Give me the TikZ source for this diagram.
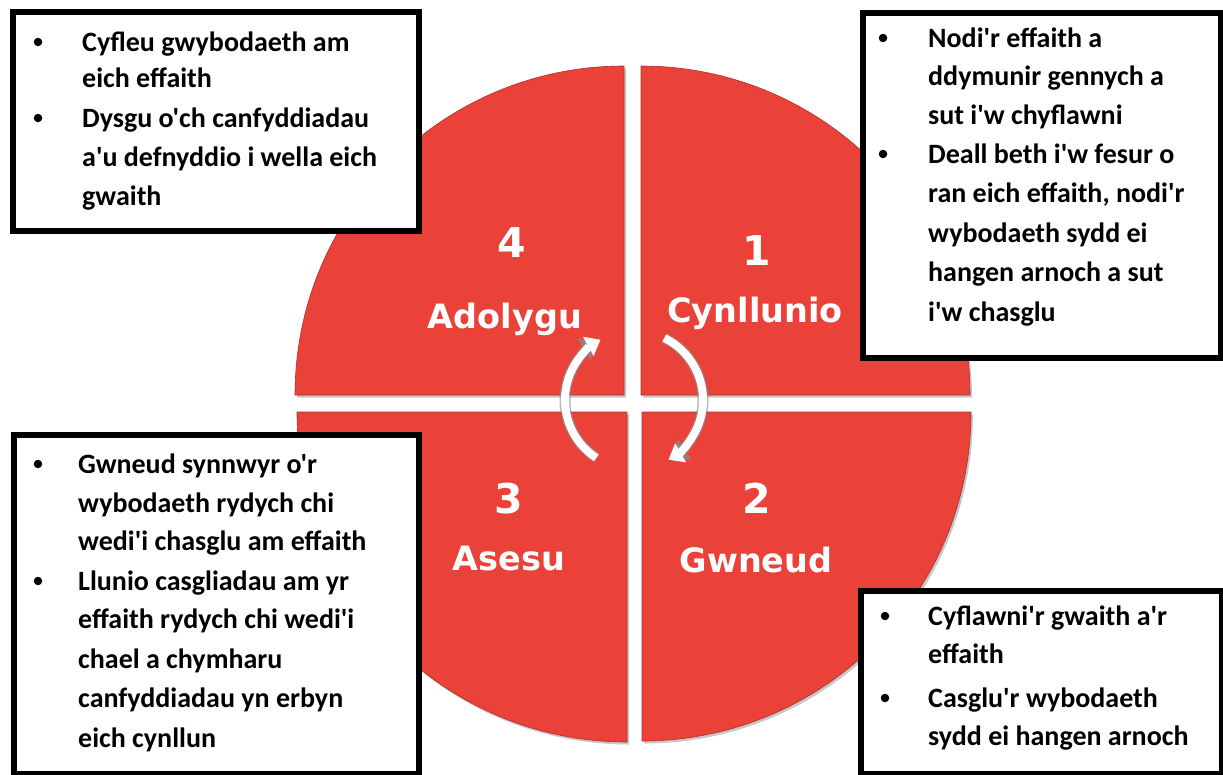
\documentclass[tikz,border=0pt]{standalone}
\usepackage{fontspec}
\newfontfamily\bodyfont{Carlito}
\newfontfamily\labfont{DejaVu Sans}
\usetikzlibrary{arrows.meta}
\definecolor{qred}{RGB}{234,65,57}
\definecolor{qedge}{RGB}{170,50,45}
\begin{document}
\begin{tikzpicture}[x=1pt,y=1pt,yscale=-1,
  quad/.style={fill=qred,draw=qedge,line width=0.6pt},
  qshadow/.style={fill=black,opacity=0.22},
  box/.style={draw=black,line width=5.5pt,fill=white,inner sep=0pt,anchor=north west},
  txt/.style={anchor=base west,inner sep=0pt,font=\bodyfont\bfseries\fontsize{28}{34}\selectfont},
  bul/.style={anchor=center,inner sep=0pt,fill=black,circle,minimum size=8.5pt},
  num/.style={anchor=base,inner sep=0pt,text=white,font=\labfont\bfseries\fontsize{41}{48}\selectfont},
  lab/.style={anchor=base,inner sep=0pt,text=white,font=\labfont\bfseries\fontsize{33.5}{40}\selectfont},
  arrshadow/.style={draw=black!45,opacity=0.6,line width=11pt,-{Triangle[length=17pt,width=25pt]}},
  arrmain/.style={draw=white,line width=8pt,-{Triangle[length=14pt,width=21pt]}}
]
\useasboundingbox[fill=white] (0,0) rectangle (1223,774);

% quadrant shadows
\begin{scope}[shift={(2,2.5)}]
\fill[qshadow] (624,395) -- (295,395) arc[start angle=180,end angle=270,radius=329] -- cycle;
\fill[qshadow] (641,395) -- (641,66) arc[start angle=270,end angle=360,radius=329] -- cycle;
\fill[qshadow] (642,412) -- (971,412) arc[start angle=0,end angle=90,radius=329] -- cycle;
\fill[qshadow] (627,412) -- (627,742) arc[start angle=90,end angle=180,radius=330] -- cycle;
\end{scope}
% quadrants
\draw[quad] (624,395) -- (295,395) arc[start angle=180,end angle=270,radius=329] -- cycle;
\draw[quad] (641,395) -- (641,66) arc[start angle=270,end angle=360,radius=329] -- cycle;
\draw[quad] (642,412) -- (971,412) arc[start angle=0,end angle=90,radius=329] -- cycle;
\draw[quad] (627,412) -- (627,742) arc[start angle=90,end angle=180,radius=330] -- cycle;

% curved arrows
\coordinate (ctr) at (634,400);
\draw[arrshadow,shift={(2,3)}] (ctr) ++(123:69) arc[start angle=123,end angle=239,radius=69];
\draw[arrmain] (ctr) ++(123:69) arc[start angle=123,end angle=241,radius=69];
\draw[arrshadow,shift={(2,3)}] (ctr) ++(-64:69) arc[start angle=-64,end angle=58,radius=69];
\draw[arrmain] (ctr) ++(-64:69) arc[start angle=-64,end angle=60,radius=69];

% quadrant labels
\node[num] (n4) at (512,257) {4};
\node[lab] (l4) at (505,328) {Adolygu};
\node[num] (n1) at (757,265) {1};
\node[lab] (l1) at (755,322) {Cynllunio};
\node[num] (n3) at (509,513) {3};
\node[lab] (l3) at (509,570) {Asesu};
\node[num] (n2) at (757,513) {2};
\node[lab] (l2) at (756,572) {Gwneud};

% boxes
\node[box,minimum width=406pt,minimum height=219pt] (tlbox) at (10,9) {};
\node[box,minimum width=358pt,minimum height=345pt] (trbox) at (860,10) {};
\node[box,minimum width=405pt,minimum height=339pt] (blbox) at (11,432) {};
\node[box,minimum width=361pt,minimum height=183pt] (brbox) at (858,588) {};

% top-left text
\node[bul] (tlb1) at (38,42) {};
\node[bul] (tlb2) at (38,118) {};
\foreach \y/\t [count=\i] in {51/Cyfleu gwybodaeth am, 87/eich effaith, 127/Dysgu o'ch canfyddiadau, 166/a'u defnyddio i wella eich, 205/gwaith}
  \node[txt] (tl\i) at (82,\y) {\t};

% top-right text
\node[bul] (trb1) at (883,38) {};
\node[bul] (trb2) at (883,154) {};
\foreach \y/\t [count=\i] in {47/Nodi'r effaith a, 85/ddymunir gennych a, 124/sut i'w chyflawni, 163/Deall beth i'w fesur o, {202/ran eich effaith, nodi'r}, 242/wybodaeth sydd ei, 281/hangen arnoch a sut, 321/i'w chasglu}
  \node[txt] (tr\i) at (928,\y) {\t};

% bottom-left text
\node[bul] (blb1) at (38,464) {};
\node[bul] (blb2) at (38,581) {};
\foreach \y/\t [count=\i] in {473/Gwneud synnwyr o'r, 512/wybodaeth rydych chi, 550/wedi'i chasglu am effaith, 590/Llunio casgliadau am yr, 628/effaith rydych chi wedi'i, 668/chael a chymharu, 707/canfyddiadau yn erbyn, 747/eich cynllun}
  \node[txt] (bl\i) at (78,\y) {\t};

% bottom-right text
\node[bul] (brb1) at (885,616) {};
\node[bul] (brb2) at (885,698) {};
\foreach \y/\t [count=\i] in {625/Cyflawni'r gwaith a'r, 663/effaith, 707/Casglu'r wybodaeth, 745/sydd ei hangen arnoch}
  \node[txt] (br\i) at (928,\y) {\t};
\end{tikzpicture}
\end{document}
